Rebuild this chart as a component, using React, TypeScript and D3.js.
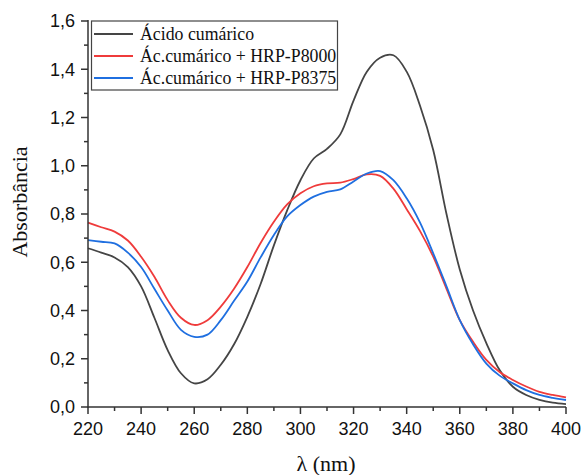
import React from "react";
import * as d3 from "d3";

const wavelengths = [220,225,230,235,240,245,250,255,260,265,270,275,280,285,290,295,300,305,310,315,320,325,330,335,340,345,350,355,360,365,370,375,380,385,390,395,400];
const acidoCumarico = [0.658,0.64,0.62,0.58,0.50,0.37,0.236,0.14,0.098,0.115,0.175,0.26,0.374,0.51,0.67,0.815,0.94,1.03,1.07,1.13,1.27,1.39,1.448,1.458,1.39,1.25,1.065,0.80,0.57,0.40,0.265,0.153,0.084,0.05,0.03,0.018,0.012];
const hrpP8000 = [0.764,0.745,0.727,0.69,0.623,0.54,0.443,0.37,0.34,0.36,0.416,0.49,0.58,0.68,0.768,0.84,0.886,0.915,0.927,0.93,0.945,0.964,0.958,0.905,0.82,0.73,0.623,0.49,0.36,0.27,0.195,0.145,0.112,0.085,0.063,0.05,0.04];
const hrpP8375 = [0.692,0.685,0.678,0.64,0.58,0.49,0.40,0.32,0.291,0.30,0.36,0.44,0.52,0.62,0.713,0.79,0.837,0.872,0.892,0.902,0.935,0.968,0.978,0.94,0.865,0.765,0.637,0.50,0.36,0.26,0.18,0.13,0.098,0.07,0.05,0.038,0.029];

const seriesNames = ["Ácido cumárico", "Ác.cumárico + HRP-P8000", "Ác.cumárico + HRP-P8375"];
const seriesColors = ["#454545", "#ef3b3b", "#1f6fe0"];
const xTicks = [220,240,260,280,300,320,340,360,380,400];
const yTicks = [0,0.2,0.4,0.6,0.8,1.0,1.2,1.4,1.6];

export default function App() {
  const W = 583, H = 475;
  const x = d3.scaleLinear().domain([220, 400]).range([88, 566]);
  const y = d3.scaleLinear().domain([0, 1.6]).range([407, 21]);
  const line = d3.line<number>()
    .x((_, i) => x(wavelengths[i]))
    .y((d) => y(d))
    .curve(d3.curveCatmullRom.alpha(0.5));
  const data = [acidoCumarico, hrpP8000, hrpP8375];
  const xMinor = d3.range(230, 400, 20);
  const yMinor = d3.range(0.1, 1.6, 0.2);
  const axisColor = "#333";
  const fmt = (v: number) => v.toFixed(1).replace(".", ",");
  const serif = "'Liberation Serif', 'Times New Roman', serif";
  const sans = "'Liberation Sans', Arial, sans-serif";
  return (
    <svg width={W} height={H} style={{ position: "absolute", left: 0, top: 0 }}>
      <rect width={W} height={H} fill="#fff" />
      {data.map((d, i) => (
        <path key={i} d={line(d) || ""} fill="none" stroke={seriesColors[i]} strokeWidth={1.8} />
      ))}
      <line x1={88} x2={88} y1={20} y2={407.75} stroke={axisColor} strokeWidth={1.5} />
      <line x1={87.25} x2={566} y1={407} y2={407} stroke={axisColor} strokeWidth={1.5} />
      {yTicks.map((t) => (
        <g key={"y" + t}>
          <line x1={81} x2={88} y1={y(t)} y2={y(t)} stroke={axisColor} strokeWidth={1.5} />
          <text x={75} y={y(t)} dy="0.36em" textAnchor="end" fontFamily={sans} fontSize={18} fill="#111">{fmt(t)}</text>
        </g>
      ))}
      {yMinor.map((t) => (
        <line key={"ym" + t} x1={84} x2={88} y1={y(t)} y2={y(t)} stroke={axisColor} strokeWidth={1.5} />
      ))}
      {xTicks.map((t) => (
        <g key={"x" + t}>
          <line x1={x(t)} x2={x(t)} y1={407} y2={414} stroke={axisColor} strokeWidth={1.5} />
          <text x={x(t)} y={435} textAnchor="middle" fontFamily={sans} fontSize={18} fill="#111">{t}</text>
        </g>
      ))}
      {xMinor.map((t) => (
        <line key={"xm" + t} x1={x(t)} x2={x(t)} y1={407} y2={411} stroke={axisColor} strokeWidth={1.5} />
      ))}
      <text x={326} y={471} textAnchor="middle" fontFamily={serif} fontSize={22} fill="#111">λ (nm)</text>
      <text transform="translate(27,202) rotate(-90)" textAnchor="middle" fontFamily={serif} fontSize={22} fill="#111">Absorbância</text>
      <rect x={91.5} y={21} width={246} height={69} fill="#fff" stroke="#444" strokeWidth={1.2} />
      {seriesNames.map((n, i) => (
        <g key={n}>
          <line x1={94} x2={133} y1={34 + i * 22} y2={34 + i * 22} stroke={seriesColors[i]} strokeWidth={1.8} />
          <text x={140} y={34 + i * 22} dy="0.33em" fontFamily={serif} fontSize={17.8} fill="#111">{n}</text>
        </g>
      ))}
    </svg>
  );
}
